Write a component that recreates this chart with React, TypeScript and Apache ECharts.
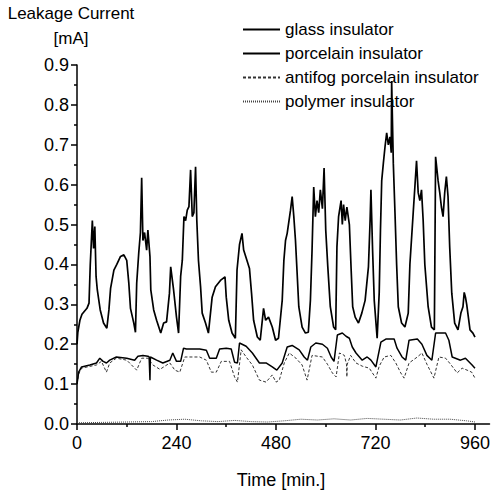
import React, { useEffect, useRef } from "react";
import * as echarts from "echarts";

const seriesNames = ["glass insulator", "porcelain insulator", "antifog porcelain insulator", "polymer insulator"];
const xTicks = [0, 240, 480, 720, 960];
const xMinorTicks = [120, 360, 600, 840];
const yLabelDigits = 1;

const glassData: [number, number][] = [
  [0, 0.2], [2, 0.23], [7, 0.26], [12, 0.275], [24, 0.29], [29, 0.303], [32, 0.4], [37, 0.51], [40, 0.44], [43, 0.495],
  [46, 0.37], [49, 0.336], [56, 0.286], [64, 0.253], [72, 0.24], [77, 0.286], [81, 0.34], [89, 0.386], [96, 0.4], [105, 0.42],
  [113, 0.424], [120, 0.41], [125, 0.353], [129, 0.29], [137, 0.253], [141, 0.23], [144, 0.353], [149, 0.43], [153, 0.48], [156, 0.617],
  [159, 0.46], [163, 0.48], [168, 0.436], [171, 0.486], [176, 0.42], [178, 0.336], [185, 0.286], [192, 0.26], [202, 0.228], [209, 0.253],
  [216, 0.256], [223, 0.328], [226, 0.394], [233, 0.336], [240, 0.268], [245, 0.228], [250, 0.37], [254, 0.41], [258, 0.52], [262, 0.51],
  [266, 0.536], [270, 0.545], [274, 0.637], [278, 0.52], [282, 0.53], [286, 0.645], [289, 0.51], [293, 0.41], [298, 0.345], [302, 0.278],
  [310, 0.253], [317, 0.228], [326, 0.318], [334, 0.344], [346, 0.36], [357, 0.369], [360, 0.318], [366, 0.26], [374, 0.228], [382, 0.215],
  [386, 0.386], [392, 0.45], [398, 0.478], [402, 0.436], [410, 0.41], [416, 0.39], [421, 0.328], [426, 0.26], [435, 0.218], [442, 0.21],
  [450, 0.29], [455, 0.26], [462, 0.268], [471, 0.243], [479, 0.21], [486, 0.215], [495, 0.31], [499, 0.41], [503, 0.46], [507, 0.478],
  [515, 0.536], [519, 0.57], [523, 0.52], [527, 0.46], [531, 0.378], [535, 0.294], [543, 0.243], [551, 0.228], [558, 0.23], [563, 0.31],
  [567, 0.436], [571, 0.594], [575, 0.52], [579, 0.56], [583, 0.53], [587, 0.587], [592, 0.54], [596, 0.642], [600, 0.486], [605, 0.394],
  [611, 0.294], [619, 0.243], [624, 0.236], [627, 0.444], [631, 0.52], [637, 0.56], [640, 0.5], [643, 0.55], [647, 0.51], [651, 0.544],
  [657, 0.5], [661, 0.394], [665, 0.294], [671, 0.268], [679, 0.253], [687, 0.278], [695, 0.31], [703, 0.394], [707, 0.51], [709, 0.587],
  [713, 0.436], [717, 0.31], [724, 0.215], [729, 0.33], [732, 0.486], [735, 0.61], [739, 0.654], [743, 0.695], [747, 0.73], [751, 0.7],
  [755, 0.72], [758, 0.68], [759, 0.86], [763, 0.654], [767, 0.53], [771, 0.4], [775, 0.294], [783, 0.253], [791, 0.243], [799, 0.278],
  [803, 0.4], [811, 0.53], [815, 0.594], [819, 0.66], [823, 0.58], [827, 0.56], [831, 0.587], [835, 0.51], [839, 0.4], [847, 0.294],
  [855, 0.243], [862, 0.236], [865, 0.67], [871, 0.61], [875, 0.58], [879, 0.544], [883, 0.52], [887, 0.58], [891, 0.62], [895, 0.57],
  [899, 0.444], [904, 0.328], [911, 0.253], [919, 0.236], [926, 0.278], [931, 0.294], [934, 0.33], [937, 0.318], [940, 0.3], [948, 0.236],
  [955, 0.228], [960, 0.218],
];

const porcelainData: [number, number][] = [
  [0, 0.1], [4, 0.13], [11, 0.143], [31, 0.148], [47, 0.153], [55, 0.165], [63, 0.157], [71, 0.153], [79, 0.16], [95, 0.168],
  [120, 0.165], [139, 0.16], [147, 0.17], [159, 0.172], [171, 0.17], [174, 0.168], [176, 0.11], [177, 0.168], [192, 0.16], [207, 0.153],
  [224, 0.16], [231, 0.178], [240, 0.157], [250, 0.157], [257, 0.19], [264, 0.188], [296, 0.188], [312, 0.185], [320, 0.165], [336, 0.165],
  [344, 0.188], [360, 0.19], [372, 0.188], [380, 0.155], [387, 0.153], [392, 0.203], [408, 0.195], [423, 0.178], [440, 0.153], [456, 0.153],
  [471, 0.143], [482, 0.135], [495, 0.153], [507, 0.193], [519, 0.197], [536, 0.186], [548, 0.168], [556, 0.16], [564, 0.193], [576, 0.203],
  [592, 0.2], [604, 0.19], [613, 0.168], [620, 0.157], [628, 0.223], [640, 0.228], [649, 0.22], [657, 0.215], [664, 0.193], [673, 0.178],
  [688, 0.16], [700, 0.168], [709, 0.16], [721, 0.143], [733, 0.205], [745, 0.213], [765, 0.213], [772, 0.19], [784, 0.168], [793, 0.16],
  [801, 0.21], [821, 0.213], [832, 0.2], [844, 0.172], [856, 0.16], [865, 0.228], [889, 0.228], [897, 0.21], [905, 0.168], [925, 0.16],
  [937, 0.165], [953, 0.148], [960, 0.14],
];

const antifogData: [number, number][] = [
  [0, 0.1], [4, 0.125], [11, 0.14], [47, 0.148], [59, 0.157], [71, 0.13], [79, 0.153], [95, 0.165], [120, 0.16], [144, 0.135],
  [156, 0.165], [171, 0.165], [183, 0.148], [200, 0.137], [224, 0.153], [236, 0.135], [248, 0.13], [260, 0.168], [296, 0.168], [312, 0.16],
  [324, 0.13], [336, 0.13], [348, 0.157], [368, 0.157], [380, 0.118], [387, 0.105], [396, 0.186], [408, 0.168], [423, 0.148], [440, 0.11],
  [456, 0.105], [471, 0.123], [480, 0.105], [488, 0.11], [500, 0.153], [512, 0.178], [528, 0.165], [543, 0.148], [555, 0.11], [567, 0.172],
  [592, 0.168], [604, 0.15], [616, 0.128], [625, 0.118], [633, 0.178], [645, 0.172], [650, 0.15], [651, 0.118], [652, 0.15], [660, 0.172],
  [673, 0.153], [688, 0.145], [705, 0.14], [721, 0.115], [729, 0.145], [741, 0.168], [757, 0.172], [769, 0.153], [781, 0.128], [789, 0.115],
  [801, 0.153], [821, 0.168], [832, 0.178], [844, 0.15], [861, 0.115], [873, 0.168], [889, 0.165], [901, 0.15], [917, 0.128], [929, 0.14],
  [941, 0.135], [952, 0.13], [960, 0.115],
];

const polymerData: [number, number][] = [
  [0, 0.003], [60, 0.004], [120, 0.005], [180, 0.006], [220, 0.01], [260, 0.012], [300, 0.008], [340, 0.006], [380, 0.009], [420, 0.006],
  [460, 0.005], [500, 0.008], [540, 0.012], [580, 0.01], [620, 0.013], [660, 0.01], [700, 0.014], [740, 0.012], [780, 0.01], [820, 0.015],
  [860, 0.012], [900, 0.012], [940, 0.008], [960, 0.005],
];

const FONT = '"Liberation Sans", Arial, sans-serif';

export default function App() {
  const ref = useRef<HTMLDivElement>(null);
  useEffect(() => {
    if (!ref.current) return;
    const chart = echarts.init(ref.current, null, { renderer: "svg" });
    const baseLine = (color: string, width: number, type: any) => ({
      type: "line" as const,
      symbol: "none",
      showSymbol: false,
      xAxisIndex: 0,
      yAxisIndex: 0,
      color,
      lineStyle: { color, width, type },
      emphasis: { disabled: true },
    });
    chart.setOption({
      animation: false,
      backgroundColor: "#fff",
      grid: { left: 77, top: 65, right: 2.3, bottom: 71, containLabel: false },
      legend: {
        orient: "vertical",
        left: 237,
        top: 16,
        itemWidth: 37,
        itemHeight: 14,
        itemGap: 7,
        itemStyle: { opacity: 0 },
        textStyle: { fontSize: 17, color: "#000", fontFamily: FONT },
        data: seriesNames,
      },
      xAxis: [
        {
          type: "value",
          min: 0,
          max: 995,
          axisLine: { show: true, lineStyle: { color: "#000", width: 1.5 } },
          axisTick: { show: true, customValues: xTicks, length: 6, lineStyle: { color: "#000", width: 1.5 } },
          axisLabel: { customValues: xTicks, color: "#000", fontSize: 18, fontFamily: FONT, margin: 10 },
          splitLine: { show: false },
        },
        {
          type: "value",
          min: 0,
          max: 995,
          position: "bottom",
          axisLine: { show: false },
          axisTick: { show: true, customValues: xMinorTicks, length: 3, lineStyle: { color: "#000", width: 1.5 } },
          axisLabel: { show: false },
          splitLine: { show: false },
        },
      ],
      yAxis: {
        type: "value",
        min: 0,
        max: 0.9,
        interval: 0.1,
        axisLine: { show: true, lineStyle: { color: "#000", width: 1.5 } },
        axisTick: { show: true, length: 6, lineStyle: { color: "#000", width: 1.5 } },
        minorTick: { show: true, splitNumber: 2, length: 3, lineStyle: { color: "#000", width: 1.5 } },
        axisLabel: {
          color: "#000",
          fontSize: 18,
          fontFamily: FONT,
          margin: 8,
          formatter: (v: number) => v.toFixed(yLabelDigits),
        },
        splitLine: { show: false },
        minorSplitLine: { show: false },
      },
      graphic: [
        { type: "text", x: 71, y: 5, style: { text: "Leakage Current", font: `17px ${FONT}`, fill: "#000", align: "center", verticalAlign: "top" } },
        { type: "text", x: 71, y: 30, style: { text: "[mA]", font: `17px ${FONT}`, fill: "#000", align: "center", verticalAlign: "top" } },
        { type: "text", x: 281, y: 471, style: { text: "Time [min.]", font: `18px ${FONT}`, fill: "#000", align: "center", verticalAlign: "top" } },
      ],
      series: [
        { ...baseLine("#000", 1.7, "solid"), name: seriesNames[0], data: glassData, z: 5 },
        { ...baseLine("#000", 1.5, "solid"), name: seriesNames[1], data: porcelainData, z: 4 },
        { ...baseLine("#333", 1, [3, 2]), name: seriesNames[2], data: antifogData, z: 3 },
        { ...baseLine("#444", 1, [1, 1]), name: seriesNames[3], data: polymerData, z: 2 },
      ],
    });
    return () => chart.dispose();
  }, []);
  return <div ref={ref} style={{ position: "absolute", left: 0, top: 0, width: 493, height: 495 }} />;
}
